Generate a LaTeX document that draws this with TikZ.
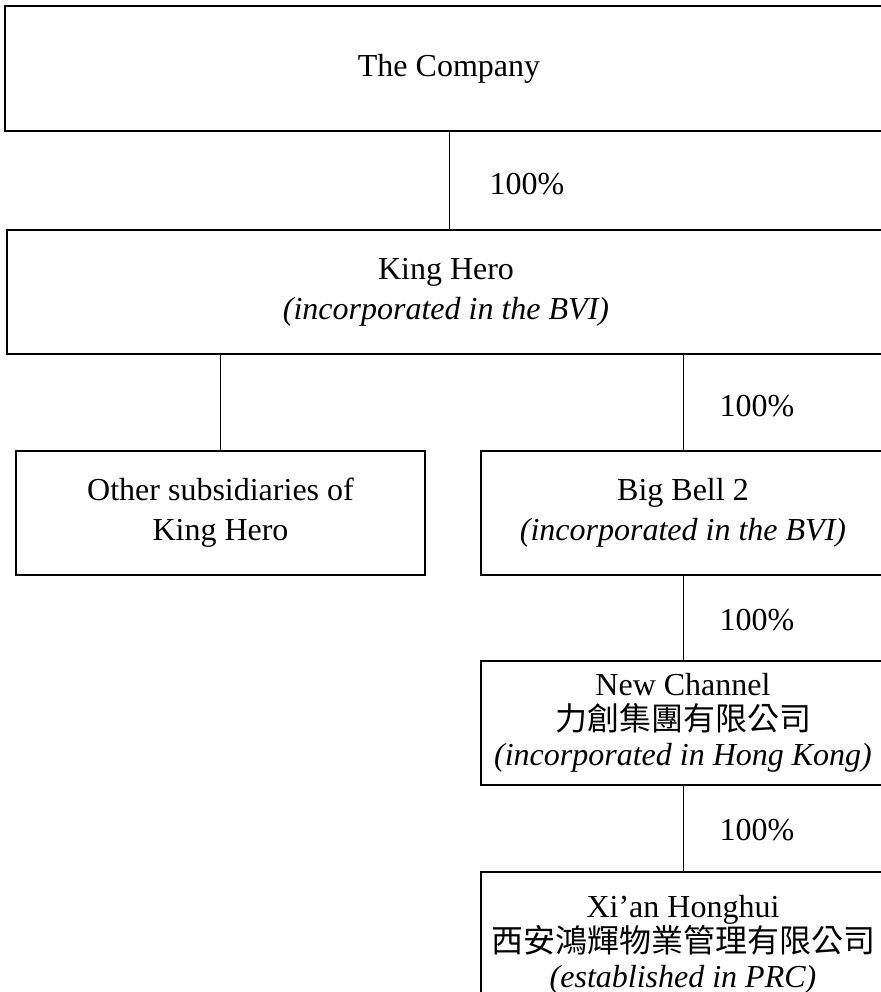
\documentclass[tikz,border=0pt]{standalone}
\usepackage{fontspec}
\setmainfont{Liberation Serif}
\newfontfamily\cjk{Noto Sans CJK TC}
\newcommand\tightlines{\fontsize{16}{17.5}\selectfont\lineskiplimit=-20pt\relax}

\begin{document}
\begin{tikzpicture}[x=0.5pt,y=-0.5pt,
    box/.style={draw,line width=0.6pt,align=center,inner sep=0pt,
      font=\fontsize{16}{20}\selectfont},
    tribox/.style={box,font=\tightlines},
    pct/.style={right,inner sep=0pt,font=\fontsize{16}{20}\selectfont}]
  \useasboundingbox (0,0) rectangle (880,992);

  \node[box,minimum width=444pt,minimum height=62.5pt] (company) at (449,68.5) {The Company};
  \node[box,minimum width=439pt,minimum height=62pt] (kinghero) at (446,292)
    {King Hero\\\textit{(incorporated in the BVI)}};
  \node[box,minimum width=204.5pt,minimum height=62pt] (others) at (220.5,513)
    {Other subsidiaries of\\King Hero};
  \node[box,minimum width=202pt,minimum height=62pt] (bigbell) at (683,513)
    {Big Bell 2\\\textit{(incorporated in the BVI)}};
  \node[tribox,minimum width=202pt,minimum height=62pt] (newchannel) at (683,723)
    {New Channel\\{\cjk 力創集團有限公司}\\\textit{(incorporated in Hong Kong)}};
  \node[tribox,minimum width=202pt,minimum height=73pt] (xian) at (683,945)
    {Xi’an Honghui\\{\cjk 西安鴻輝物業管理有限公司}\\\textit{(established in PRC)}};

  % ownership lines
  \draw[line width=0.5pt] (company.south) -- node[pct,xshift=20pt,yshift=-2pt] {100\%} (company.south |- kinghero.north);
  \draw[line width=0.5pt] (others.north) -- (others.north |- kinghero.south);
  \draw[line width=0.5pt] (bigbell.north) -- node[pct,xshift=18pt,yshift=-2pt] {100\%} (bigbell.north |- kinghero.south);
  \draw[line width=0.5pt] (bigbell.south) -- node[pct,xshift=18pt,yshift=-1pt] {100\%} (newchannel.north);
  \draw[line width=0.5pt] (newchannel.south) -- node[pct,xshift=18pt,yshift=-1pt] {100\%} (newchannel.south |- xian.north);
\end{tikzpicture}
\end{document}
